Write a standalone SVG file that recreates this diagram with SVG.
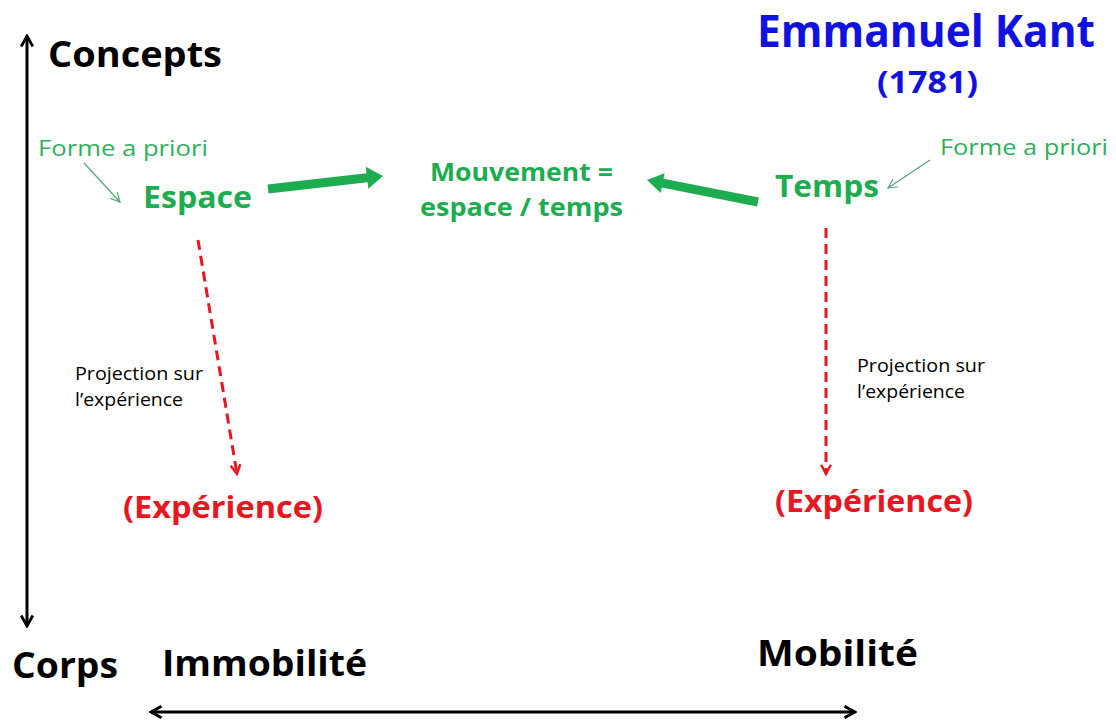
<svg xmlns="http://www.w3.org/2000/svg" width="1116" height="727" viewBox="0 0 1116 727">
<style>
  text { font-family: "Open Sans", "Liberation Sans", sans-serif; }
  .b { font-weight: 700; }
  .r { font-weight: 400; }
  .blk { fill: #000; }
  .blue { fill: #1212E0; }
  .grn { fill: #1DAD50; }
  .lgrn { fill: #2EAF5C; }
  .red { fill: #E8161E; }
  .axis { stroke: #000; stroke-width: 3; fill: none; }
  .dash { stroke: #E8161E; stroke-width: 3; stroke-dasharray: 10 6; fill: none; }
  .thin { stroke: #5AA77C; stroke-width: 1.3; fill: none; }
  .block { fill: #1DAD50; }
</style>
<defs>
  <marker id="blackV" markerUnits="userSpaceOnUse" viewBox="0 0 12 12" markerWidth="14" markerHeight="14" refX="10.5" refY="6" orient="auto-start-reverse">
    <path d="M1.5,1 L10.5,6 L1.5,11" fill="none" stroke="#000" stroke-width="2.4" stroke-dasharray="none"/>
  </marker>
  <marker id="redV" markerUnits="userSpaceOnUse" viewBox="0 0 12 12" markerWidth="13" markerHeight="13" refX="10.5" refY="6" orient="auto">
    <path d="M2,1.5 L10.5,6 L2,10.5" fill="none" stroke="#E8161E" stroke-width="2.2" stroke-dasharray="none"/>
  </marker>
  <marker id="greenV" markerUnits="userSpaceOnUse" viewBox="0 0 12 12" markerWidth="11" markerHeight="11" refX="11" refY="6" orient="auto">
    <path d="M1,1 L11,6 L1,11" fill="none" stroke="#5AA77C" stroke-width="1.3"/>
  </marker>
</defs>
<rect width="1116" height="727" fill="#fff"/>

<g id="connectors">
  <line id="axis-vertical" class="axis" x1="27" y1="36" x2="27" y2="626" marker-start="url(#blackV)" marker-end="url(#blackV)"/>
  <line id="axis-horizontal" class="axis" x1="151" y1="712" x2="855" y2="712" marker-start="url(#blackV)" marker-end="url(#blackV)"/>
  <polygon id="arrow-espace-mouvement" class="block" transform="translate(268,189) rotate(-6.45)" points="0,-4.5 99.7,-4.5 99.7,-11 115.7,0 99.7,11 99.7,4.5 0,4.5"/>
  <polygon id="arrow-temps-mouvement" class="block" transform="translate(758,202) rotate(191.2)" points="0,-4.5 97.2,-4.5 97.2,-10 113.2,0 97.2,10 97.2,4.5 0,4.5"/>
  <line id="forme-espace" class="thin" x1="84" y1="163" x2="120" y2="202" marker-end="url(#greenV)"/>
  <line id="forme-temps" class="thin" x1="930" y1="160" x2="888" y2="188" marker-end="url(#greenV)"/>
  <line id="proj-left" class="dash" x1="198" y1="240" x2="237" y2="474" marker-end="url(#redV)"/>
  <line id="proj-right" class="dash" x1="826" y1="228" x2="826" y2="474" marker-end="url(#redV)"/>
</g>

<g id="title">
  <text class="b blue" x="757" y="47" font-size="44" textLength="338" lengthAdjust="spacingAndGlyphs">Emmanuel Kant</text>
  <text class="b blue" x="877" y="93" font-size="30" textLength="101" lengthAdjust="spacingAndGlyphs">(1781)</text>
</g>
<g id="concepts">
  <text class="b blk" x="48" y="67" font-size="36" textLength="174" lengthAdjust="spacingAndGlyphs">Concepts</text>
</g>
<g id="forme-left">
  <text class="r lgrn" x="38" y="156" font-size="22" textLength="170" lengthAdjust="spacingAndGlyphs">Forme a priori</text>
</g>
<g id="espace">
  <text class="b grn" x="143" y="208" font-size="31" textLength="109" lengthAdjust="spacingAndGlyphs">Espace</text>
</g>
<g id="mouvement">
  <text class="b grn" x="430" y="181" font-size="25" textLength="183" lengthAdjust="spacingAndGlyphs">Mouvement =</text>
  <text class="b grn" x="420" y="216" font-size="25" textLength="203" lengthAdjust="spacingAndGlyphs">espace / temps</text>
</g>
<g id="temps">
  <text class="b grn" x="775" y="197" font-size="31" textLength="104" lengthAdjust="spacingAndGlyphs">Temps</text>
</g>
<g id="forme-right">
  <text class="r lgrn" x="940" y="155" font-size="22" textLength="168" lengthAdjust="spacingAndGlyphs">Forme a priori</text>
</g>
<g id="projection-left">
  <text class="r blk" x="75" y="380" font-size="18" textLength="128" lengthAdjust="spacingAndGlyphs">Projection sur</text>
  <text class="r blk" x="75" y="406" font-size="18" textLength="108" lengthAdjust="spacingAndGlyphs">l’expérience</text>
</g>
<g id="projection-right">
  <text class="r blk" x="857" y="372" font-size="18" textLength="128" lengthAdjust="spacingAndGlyphs">Projection sur</text>
  <text class="r blk" x="857" y="398" font-size="18" textLength="108" lengthAdjust="spacingAndGlyphs">l’expérience</text>
</g>
<g id="experience-left">
  <text class="b red" x="123" y="518" font-size="30" textLength="200" lengthAdjust="spacingAndGlyphs">(Expérience)</text>
</g>
<g id="experience-right">
  <text class="b red" x="775" y="512" font-size="30" textLength="198" lengthAdjust="spacingAndGlyphs">(Expérience)</text>
</g>
<g id="corps">
  <text class="b blk" x="12" y="678" font-size="36" textLength="106" lengthAdjust="spacingAndGlyphs">Corps</text>
</g>
<g id="immobilite">
  <text class="b blk" x="162" y="676" font-size="36" textLength="205" lengthAdjust="spacingAndGlyphs">Immobilité</text>
</g>
<g id="mobilite">
  <text class="b blk" x="757" y="666" font-size="36" textLength="161" lengthAdjust="spacingAndGlyphs">Mobilité</text>
</g>
</svg>
